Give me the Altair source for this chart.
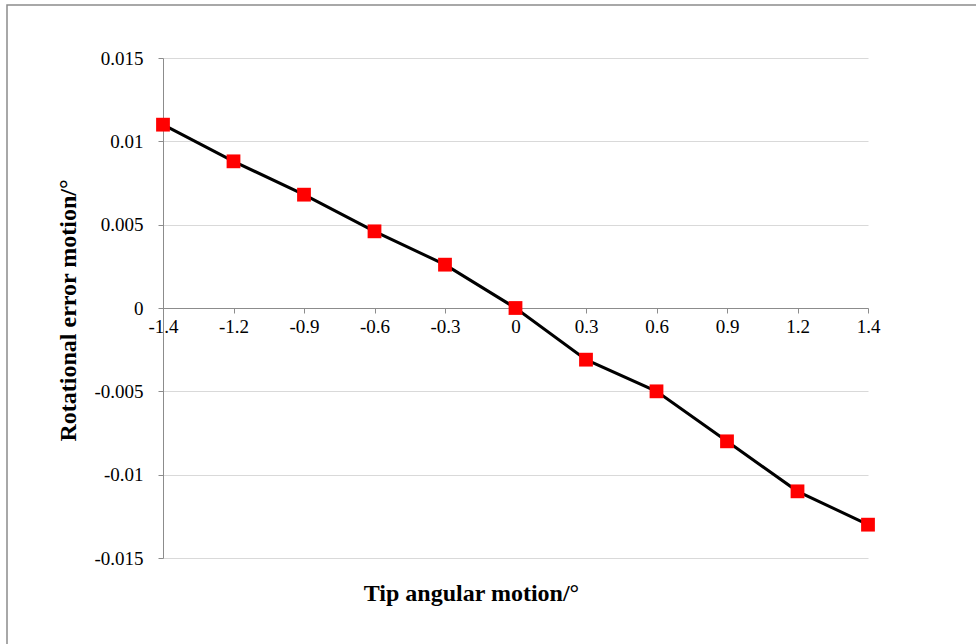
import altair as alt
import pandas as pd

categories = ["-1.4", "-1.2", "-0.9", "-0.6", "-0.3", "0", "0.3", "0.6", "0.9", "1.2", "1.4"]
values = [0.011, 0.0088, 0.0068, 0.0046, 0.0026, 0.0, -0.0031, -0.005, -0.008, -0.011, -0.013]
y_ticks = [-0.015, -0.01, -0.005, 0, 0.005, 0.01, 0.015]

df = pd.DataFrame({"angle": categories, "error": values})

FONT = "Liberation Serif"

x_enc = alt.X(
    "angle:O",
    sort=categories,
    scale=alt.Scale(type="point", padding=0),
    axis=alt.Axis(
        title="Tip angular motion/°",
        labelAngle=0,
        offset=-250,
        domainColor="#8c8c8c",
        tickColor="#8c8c8c",
        tickSize=5,
        labelPadding=4,
        labelFont=FONT,
        labelFontSize=19,
        labelColor="black",
        titleFont=FONT,
        titleFontSize=24,
        titleFontWeight="bold",
        titleColor="black",
        titleX=308,
        titleY=292,
        titleAnchor="start",
        titleAlign="center",
        titleBaseline="alphabetic",
        grid=False,
    ),
)

y_enc = alt.Y(
    "error:Q",
    scale=alt.Scale(domain=[-0.015, 0.015], nice=False, zero=False),
    axis=alt.Axis(
        title="Rotational error motion/°",
        values=y_ticks,
        labelExpr="'' + datum.value",
        domainColor="#8c8c8c",
        tickColor="#8c8c8c",
        tickSize=5,
        labelPadding=15,
        labelFont=FONT,
        labelFontSize=19,
        labelColor="black",
        titleFont=FONT,
        titleFontSize=24,
        titleFontWeight="bold",
        titleColor="black",
        titleAngle=-90,
        titleX=-95,
        titleY=252,
        titleAlign="center",
        titleBaseline="middle",
        grid=True,
        gridColor="#d9d9d9",
        gridWidth=1,
    ),
)

base = alt.Chart(df).encode(x=x_enc, y=y_enc)

line = base.mark_line(color="black", strokeWidth=3)
points = base.mark_point(shape="square", filled=True, color="#ff0000", size=190, opacity=1)

frame = alt.Chart(pd.DataFrame({"a": [0]})).mark_rect(
    fillOpacity=0, stroke="#8c8c8c", strokeWidth=1.5
).encode(
    x=alt.value(-156), x2=alt.value(900), y=alt.value(-53), y2=alt.value(700)
)

chart = alt.layer(frame, line, points).properties(
    width=705,
    height=500,
    padding={"left": 163, "top": 58, "right": 108, "bottom": 86},
    autosize=alt.AutoSizeParams(type="none"),
    background="white",
).configure_view(stroke=None)

chart.save("out.html", embed_options={"renderer": "svg", "actions": False})
